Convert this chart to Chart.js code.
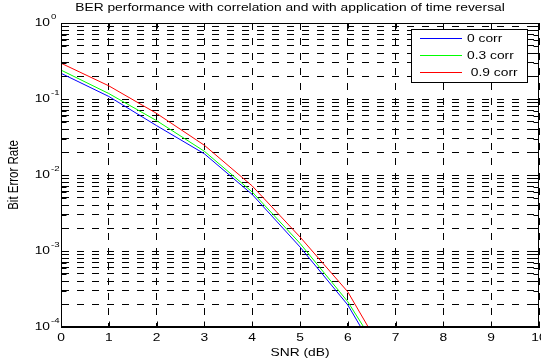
<!DOCTYPE html>
<html>
<head>
<meta charset="utf-8">
<script src="https://cdn.jsdelivr.net/npm/chart.js@4/dist/chart.umd.min.js"></script>
<style>
body { margin: 0; background: #fff; overflow: hidden; }
</style>
</head>
<body>
<canvas id="grafica" width="560" height="362"></canvas>
<script>
const titulo = "BER performance with correlation and with application of time reversal"
const tituloX = "SNR (dB)"
const tituloY = "Bit Error Rate"
const snr = [0, 1, 2, 3, 4, 5, 6, 7]
const ber0 = [0.218, 0.108, 0.0446, 0.0190, 0.00555, 0.00113, 0.000195, 0.0000165]
const ber03 = [0.240, 0.118, 0.0519, 0.0205, 0.00598, 0.00126, 0.000215, 0.0000215]
const ber09 = [0.296, 0.149, 0.0646, 0.0246, 0.00718, 0.00153, 0.00029, 0.000024]
const etiquetas = ["0 corr", "0.3 corr", " 0.9 corr"]
const colores = ["#0000ff", "#00ff00", "#ff0000"]
const decadas = [-4, -3, -2, -1, 0]
const xTicks = [0, 1, 2, 3, 4, 5, 6, 7, 8, 9, 10]

const fuente = "'Liberation Sans', Arial, sans-serif"
const ESTIRA = 1.2  // el original esta estirado a lo ancho

// ticks del eje log: 1..9 por decada (grilla menor de matlab)
const yTicks = []
decadas.forEach(e => {
    if (e === 0) { yTicks.push(1); return }
    for (let m = 1; m <= 9; m++) yTicks.push(m * Math.pow(10, e))
})

const series = [ber0, ber03, ber09]

function texto(ctx, s, x, y, size, align, rot) {
    ctx.save()
    ctx.translate(x, y)
    ctx.scale(ESTIRA, 1)
    if (rot) ctx.rotate(rot)
    ctx.font = size + "px " + fuente
    ctx.textAlign = align
    ctx.textBaseline = "middle"
    ctx.fillStyle = "#000"
    ctx.fillText(s, 0, 0)
    ctx.restore()
}

const marco = {
    id: "marco",
    afterDraw(chart) {
        const { ctx, chartArea: a, scales: { x, y } } = chart
        ctx.save()
        ctx.strokeStyle = "#000"
        ctx.lineWidth = 1
        const L = Math.round(a.left) + 0.5, R = Math.round(a.right) - 0.5
        const T = Math.round(a.top) + 0.5, B = Math.round(a.bottom) - 0.5
        ctx.strokeRect(L, T, R - L, B - T)

        // ticks hacia adentro
        ctx.beginPath()
        xTicks.forEach(v => {
            const px = Math.round(x.getPixelForValue(v)) + 0.5
            ctx.moveTo(px, B); ctx.lineTo(px, B - 5)
            ctx.moveTo(px, T); ctx.lineTo(px, T + 5)
        })
        yTicks.forEach(v => {
            const py = Math.round(y.getPixelForValue(v)) + 0.5
            ctx.moveTo(L, py); ctx.lineTo(L + 5, py)
            ctx.moveTo(R, py); ctx.lineTo(R - 5, py)
        })
        ctx.stroke()

        // etiquetas eje x
        xTicks.forEach(v => texto(ctx, String(v), x.getPixelForValue(v), 338, 11.5, "center"))
        texto(ctx, tituloX, (a.left + a.right) / 2, 353, 11.5, "center")

        // etiquetas 10^n
        decadas.forEach(e => {
            const py = y.getPixelForValue(Math.pow(10, e))
            texto(ctx, "10", 50, py, 11.5, "right")
            texto(ctx, String(e), 51, py - 6, 8, "left")
        })
        texto(ctx, tituloY, 14, (a.top + a.bottom) / 2, 11.5, "center", -Math.PI / 2)

        // titulo
        texto(ctx, titulo, 290, 8, 11.5, "center")

        // leyenda
        ctx.fillStyle = "#fff"
        ctx.fillRect(411.5, 29.5, 116, 53)
        ctx.strokeRect(411.5, 29.5, 116, 53)
        chart.data.datasets.forEach((d, i) => {
            const yy = 38.5 + i * 17
            ctx.strokeStyle = d.borderColor
            ctx.beginPath()
            ctx.moveTo(420, yy); ctx.lineTo(462, yy)
            ctx.stroke()
            texto(ctx, d.label, 467, yy, 11.5, "left")
        })
        ctx.restore()
    }
}

new Chart(document.querySelector("#grafica"), {
    type: "line",
    data: {
        datasets: series.map((s, i) => ({
            label: etiquetas[i],
            data: snr.map((v, j) => ({ x: v, y: s[j] })),
            borderColor: colores[i],
            borderWidth: 1,
            pointRadius: 0,
            tension: 0,
            fill: false
        }))
    },
    plugins: [marco],
    options: {
        responsive: false,
        animation: false,
        devicePixelRatio: 1,
        layout: { padding: { left: 0, right: 21, top: 23, bottom: 0 } },
        plugins: {
            legend: { display: false },
            tooltip: { enabled: false }
        },
        scales: {
            x: {
                type: "linear",
                min: 0,
                max: 10,
                afterBuildTicks: s => { s.ticks = xTicks.map(v => ({ value: v })) },
                afterFit: s => { s.height = 35 },
                ticks: { callback: () => "" },
                grid: { color: "#000", drawTicks: false },
                border: { display: true, color: "#000", dash: [7, 8] }
            },
            y: {
                type: "logarithmic",
                min: 1e-4,
                max: 1,
                afterBuildTicks: s => { s.ticks = yTicks.map(v => ({ value: v })) },
                afterFit: s => { s.width = 61 },
                ticks: { autoSkip: false, callback: () => "" },
                grid: { color: "#000", drawTicks: false },
                border: { display: true, color: "#000", dash: [7, 8] }
            }
        }
    }
})
</script>
</body>
</html>
